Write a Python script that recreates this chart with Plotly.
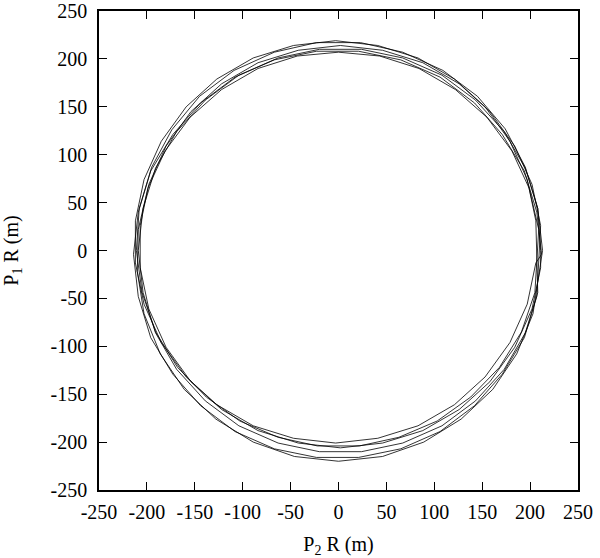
import plotly.graph_objects as go

# Loop vertices (P2 R, P1 R) in metres
x_loop1 = [211, 208, 195, 174, 145, 109, 67, 23, -23, -67, -109, -145, -174, -195, -208, -211,
           -205, -191, -168, -138, -103, -63, -22, 22, 63, 103, 138, 168, 191, 205]
y_loop1 = [0, 44, 87, 127, 161, 188, 207, 217, 217, 207, 188, 161, 126, 87, 44, 0,
           -44, -85, -122, -153, -178, -195, -204, -204, -195, -178, -153, -122, -85, -44]
x_loop2 = [209, 199, 181, 155, 122, 84, 43, 0, -43, -84, -122, -155, -181, -199, -209,
           -210, -203, -186, -161, -128, -89, -46, 0, 46, 89, 128, 161, 186, 203, 210]
y_loop2 = [22, 65, 104, 139, 168, 190, 203, 207, 203, 190, 168, 139, 104, 65, 22,
           -22, -66, -108, -145, -176, -200, -215, -220, -215, -200, -176, -145, -108, -66, -22]
x_loop3 = [213, 208, 195, 173, 143, 108, 67, 24, -20, -63, -104, -139, -169, -191, -204, -209,
           -204, -191, -169, -139, -104, -63, -20, 24, 67, 108, 143, 173, 195, 208]
y_loop3 = [0, 44, 86, 124, 157, 183, 201, 210, 210, 201, 183, 157, 124, 86, 44, 0,
           -44, -86, -124, -157, -183, -201, -210, -210, -201, -183, -157, -124, -86, -44]
x_loop4 = [206, 197, 179, 153, 121, 83, 41, -3, -47, -89, -127, -159, -185, -203, -212,
           -212, -203, -185, -159, -127, -89, -47, -3, 41, 83, 121, 153, 179, 197, 206]
y_loop4 = [31, 74, 114, 150, 179, 201, 214, 219, 214, 201, 179, 150, 114, 74, 31,
           -13, -56, -96, -132, -161, -183, -196, -201, -196, -183, -161, -132, -96, -56, -13]
x_loop5 = [212, 207, 194, 171, 142, 106, 65, 21, -23, -67, -108, -144, -173, -196, -209, -214,
           -209, -196, -173, -144, -108, -67, -23, 21, 65, 106, 142, 171, 194, 207]
y_loop5 = [-4, 40, 83, 121, 154, 181, 199, 208, 208, 199, 181, 154, 121, 83, 40, -4,
           -48, -91, -129, -162, -189, -207, -216, -216, -207, -189, -162, -129, -91, -48]
x_loop6 = [211, 202, 184, 158, 126, 88, 46, 2, -42, -84, -122, -154, -180, -198, -207,
           -207, -198, -180, -154, -122, -84, -42, 2, 46, 88, 126, 158, 184, 202, 211, 211]
y_loop6 = [26, 69, 109, 145, 174, 196, 209, 214, 209, 196, 174, 145, 109, 69, 26,
           -18, -61, -101, -137, -166, -188, -201, -206, -201, -188, -166, -137, -101, -61, -18, 0]

tick_vals = [-250, -200, -150, -100, -50, 0, 50, 100, 150, 200, 250]
tick_text = ["-250", "-200", "-150", "-100", "-50", "0", "50", "100", "150", "200", "250"]

x_all = x_loop1 + x_loop2 + x_loop3 + x_loop4 + x_loop5 + x_loop6
y_all = y_loop1 + y_loop2 + y_loop3 + y_loop4 + y_loop5 + y_loop6

fig = go.Figure()
fig.add_trace(go.Scatter(x=x_all, y=y_all, mode="lines",
                         line=dict(color="black", width=0.8), showlegend=False))

font = dict(family="Liberation Serif, Times New Roman, serif", size=20, color="black")
axis_common = dict(range=[-250, 250], tickmode="array", tickvals=tick_vals, ticktext=tick_text,
                   ticks="inside", ticklen=8, tickwidth=1, tickcolor="black",
                   showline=True, linecolor="black", linewidth=1.5, mirror="allticks",
                   showgrid=False, zeroline=False, tickfont=font, automargin=False,
                   ticklabeloverflow="allow")

fig.update_layout(
    width=600, height=558,
    margin=dict(l=99, r=22, t=11, b=68),
    paper_bgcolor="white", plot_bgcolor="white",
    font=font,
    xaxis=dict(**axis_common, ticklabelstandoff=3,
               title=dict(text="P<sub>2</sub> R (m)", font=font, standoff=15)),
    yaxis=dict(**axis_common, ticklabelstandoff=6,
               title=dict(text="P<sub>1</sub> R (m)", font=font, standoff=27)),
)
fig.write_html("out.html", config={"displayModeBar": False},
               post_script="document.body.style.margin='0';")
